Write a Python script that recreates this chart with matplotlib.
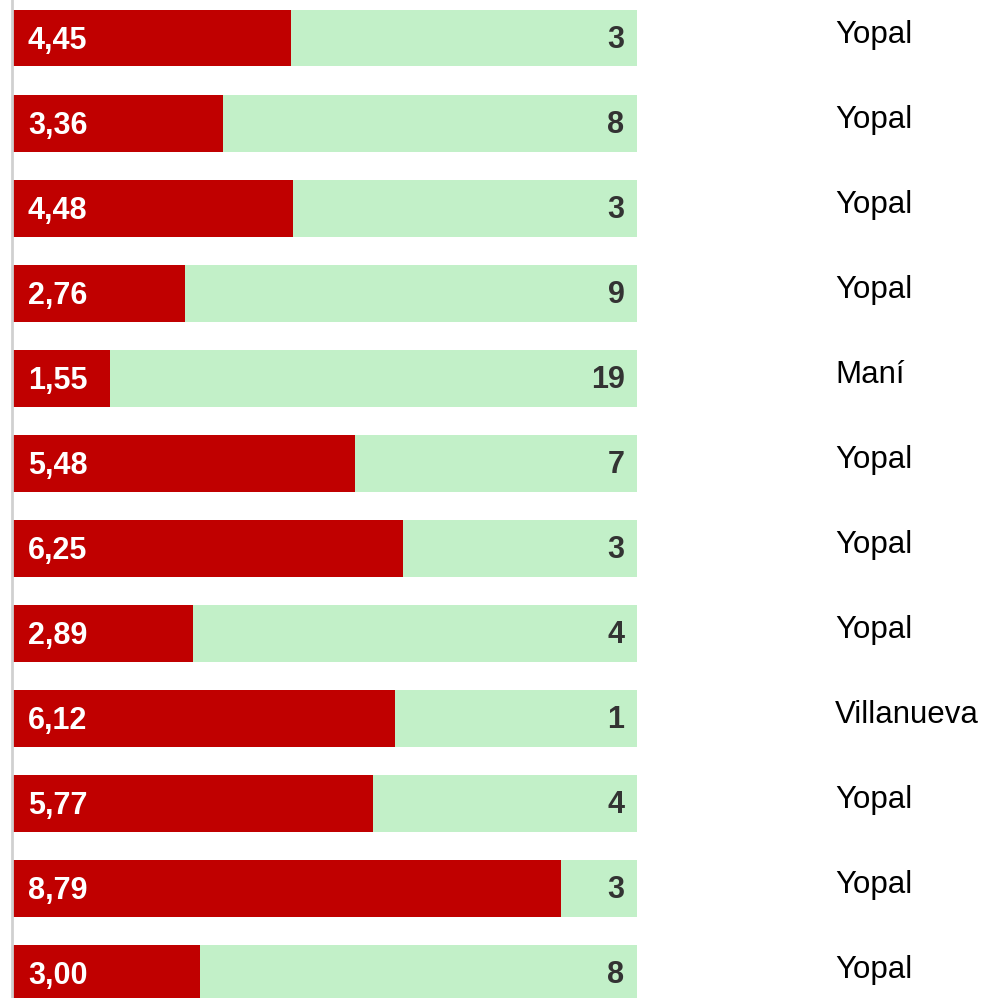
import matplotlib.pyplot as plt
import matplotlib.transforms as mtransforms

# data
scores = [4.45, 3.36, 4.48, 2.76, 1.55, 5.48, 6.25, 2.89, 6.12, 5.77, 8.79, 3.00]
counts = [3, 8, 3, 9, 19, 7, 3, 4, 1, 4, 3, 8]
towns = ['Yopal', 'Yopal', 'Yopal', 'Yopal', 'Maní', 'Yopal', 'Yopal',
         'Yopal', 'Villanueva', 'Yopal', 'Yopal', 'Yopal']
max_score = 10

plt.rcParams['font.family'] = ['Liberation Sans', 'DejaVu Sans']

fig = plt.figure(figsize=(9.82, 9.98), dpi=100)
ax = fig.add_axes([13 / 982, 0, 624 / 982, 1])

rows = list(range(len(scores)))
ax.barh(rows, [max_score] * len(rows), height=0.67, color='#c2f0c8', zorder=1)
ax.barh(rows, scores, height=0.67, color='#c00000', zorder=2)

for i in rows:
    ax.text(0.24, i + 0.03, f'{scores[i]:.2f}'.replace('.', ','), color='white',
            fontsize=22, fontweight='bold', va='center', ha='left', zorder=3)
    ax.text(max_score - 0.2, i + 0.02, str(counts[i]), color='#333333',
            fontsize=22, fontweight='bold', va='center', ha='right', zorder=3)

# town names sit outside the bars, to the right
trans = mtransforms.blended_transform_factory(fig.transFigure, ax.transData)
for i in rows:
    ax.text(835 / 982, i - 0.04, towns[i], transform=trans, fontsize=22.5,
            color='black', va='center', ha='left', clip_on=False)

ax.set_xlim(0, max_score)
ax.set_ylim(11.29, -0.447)
ax.set_xticks([])
ax.set_yticks([])
for s in ['top', 'right', 'bottom']:
    ax.spines[s].set_visible(False)
ax.spines['left'].set_color('#d0d0d0')
ax.spines['left'].set_linewidth(2)
ax.spines['left'].set_position(('outward', 1))

fig.savefig('out.png', dpi=100)
